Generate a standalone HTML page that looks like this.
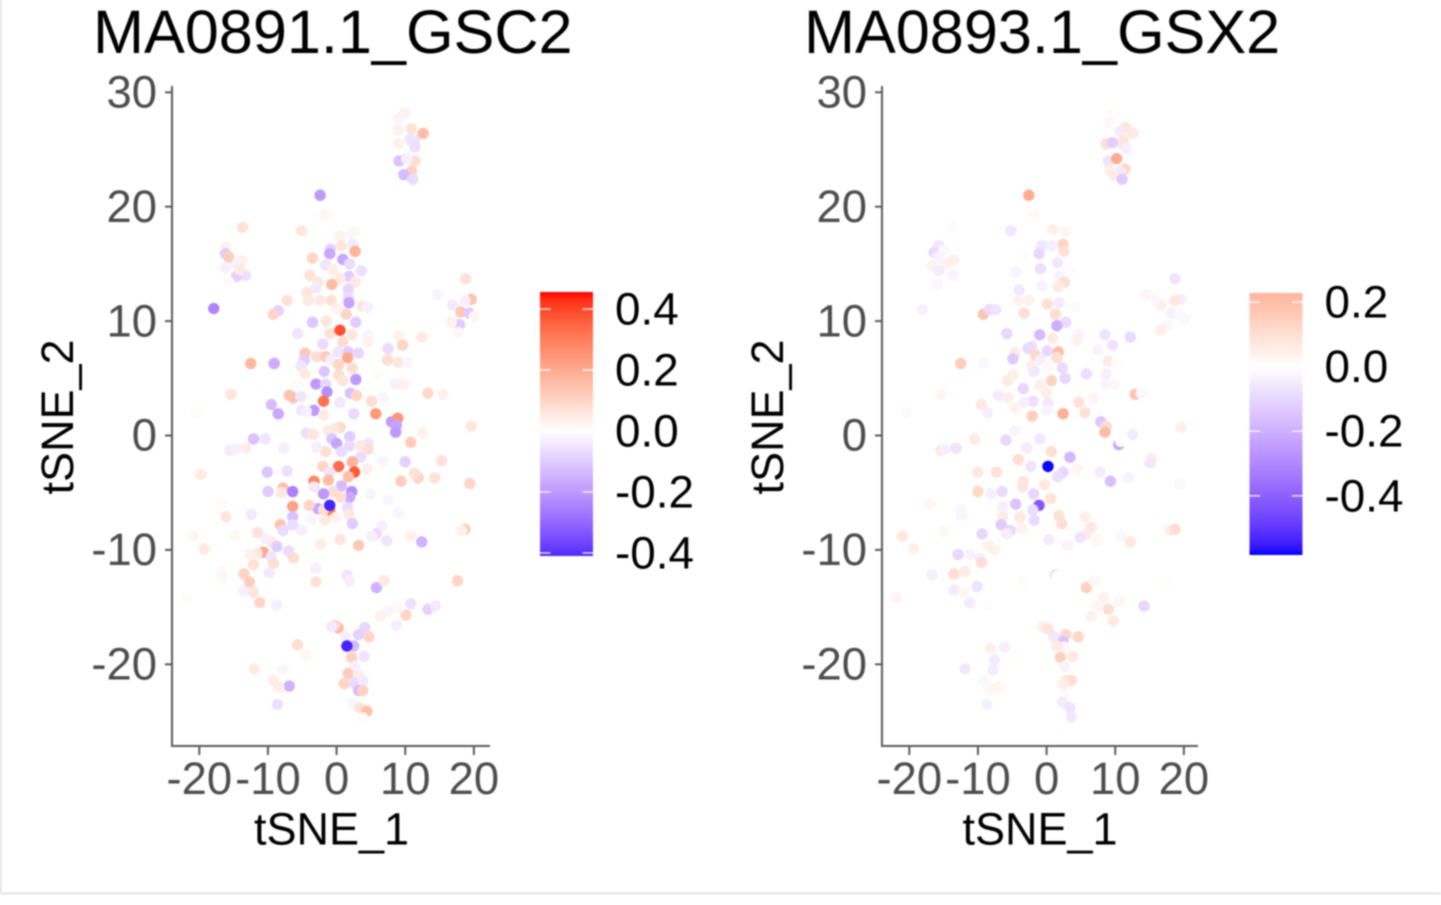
<!DOCTYPE html>
<html lang="en">
<head>
<meta charset="utf-8">
<title>MA0891.1_GSC2 and MA0893.1_GSX2 tSNE</title>
<style>
html,body{margin:0;padding:0;background:#fff;width:1441px;height:905px;overflow:hidden}
svg{display:block;position:absolute;left:0;top:0;filter:blur(0.9px)}
text{font-family:"Liberation Sans",sans-serif}
.tick{font-size:45.4px;fill:#4d4d4d}
.axt{font-size:45px;fill:#000}
.ttl{font-size:61.2px;fill:#000}
.leg{font-size:45.8px;fill:#000}
</style>
</head>
<body>
<svg id="fig" xmlns="http://www.w3.org/2000/svg" width="1441" height="905" viewBox="0 0 1441 905">
  <rect x="0" y="0" width="1441" height="905" fill="#fff"/>
  <rect x="0" y="0" width="1.5" height="893" fill="#dcdcdc"/>
  <rect x="0" y="892.5" width="1441" height="2" fill="#e2e2e2"/>
  <text class="ttl" x="93" y="53">MA0891.1_GSC2</text>
  <text class="ttl" x="804" y="53">MA0893.1_GSX2</text>
  <text class="axt" x="331.5" y="844.5" text-anchor="middle">tSNE_1</text>
  <text class="axt" x="1040" y="844.5" text-anchor="middle">tSNE_1</text>
  <text class="axt" transform="translate(73,417) rotate(-90)" text-anchor="middle">tSNE_2</text>
  <text class="axt" transform="translate(783,417) rotate(-90)" text-anchor="middle">tSNE_2</text>
  <defs id="defs"></defs>
  <g id="panel-left"></g>
  <g id="panel-right"></g>
</svg>
<script>
const xTickValues = [-20, -10, 0, 10, 20];
const xTickLabels = ["-20", "-10", "0", "10", "20"];
const yTickValues = [30, 20, 10, 0, -10, -20];
const yTickLabels = ["30", "20", "10", "0", "-10", "-20"];

const gsc2LegendValues = [0.4, 0.2, 0, -0.2, -0.4];
const gsc2LegendLabels = ["0.4", "0.2", "0.0", "-0.2", "-0.4"];
const gsc2Limits = [-0.41, 0.456];
const gsx2LegendValues = [0.2, 0, -0.2, -0.4];
const gsx2LegendLabels = ["0.2", "0.0", "-0.2", "-0.4"];
const gsx2Limits = [-0.583, 0.228];

const gsc2X = [
9.9,9.0,9.0,10.9,12.6,11.4,10.7,9.0,11.4,9.1,11.4,10.2,10.9,9.8,11.1,
-2.4,-1.8,-13.7,-5.1,-16.2,-16.2,-15.7,-16.2,-14.6,-13.3,-14.6,-13.8,-14.1,-15.7,-17.9,
0.5,2.2,2.7,0.7,-0.9,-1.0,2.4,2.7,-3.5,0.9,1.9,-1.6,-0.5,1.8,3.6,-3.9,0.5,2.7,-0.7,-2.7,-3.0,1.7,1.7,-4.3,1.8,-4.1,-2.4,-0.8,-7.2,-8.5,-9.2,3.8,4.5,1.4,0.1,-1.5,-3.5,2.8,
-1.0,2.3,-5.7,4.6,4.6,0.9,-2.0,0.5,9.0,12.4,7.5,9.6,
14.7,18.8,19.6,18.7,16.9,18.1,19.3,17.9,20.1,16.7,17.7,
-12.5,-9.1,-9.1,-4.6,-4.7,-5.2,-2.9,-1.6,0.2,1.7,3.2,1.6,-0.8,0.3,2.3,-1.8,2.8,0.3,-4.6,0.9,7.4,9.0,10.3,5.8,8.6,9.9,-5.6,-3.0,-1.6,-1.4,
-15.4,-6.9,-6.3,-5.2,-9.5,-8.5,2.0,2.9,-1.9,5.1,6.8,13.3,15.5,0.5,-5.1,-3.3,-4.4,-1.9,2.5,5.7,-20.5,
8.0,8.9,8.7,8.6,12.5,10.8,19.6,0.5,-0.2,-4.4,-3.4,-1.2,1.9,-0.7,0.0,1.9,4.6,-12.1,-10.4,-15.5,-14.7,-13.2,-7.7,4.6,3.4,0.7,-1.6,-2.9,3.5,2.3,6.8,10.0,15.3,
-19.8,0.3,-2.0,2.6,4.4,-10.1,-7.2,-1.0,1.7,11.9,11.3,14.3,9.4,19.4,-3.3,-1.2,-3.3,-7.8,-8.0,-6.4,-10.0,0.7,-0.5,-1.9,2.2,1.9,0.6,4.9,
-2.7,-1.0,-1.9,-1.0,-4.0,-6.4,-16.7,1.6,1.8,-6.4,-3.6,-0.2,-1.7,2.3,-12.4,-16.1,9.0,7.5,
-6.4,-8.2,-7.8,-5.1,-11.5,6.6,5.8,5.1,7.3,10.8,12.4,18.7,18.2,-21.0,-19.3,-14.8,0.5,3.2,-2.3,-9.5,-10.4,-8.7,-7.0,-10.7,-11.6,-12.7,-9.5,-6.3,-12.1,-9.2,
-16.7,-16.6,-9.8,-13.5,-3.0,1.5,1.9,-3.0,-12.7,-13.6,-12.1,5.8,6.9,17.6,-21.9,-11.2,-8.7,10.8,13.3,14.4,10.1,9.0,7.5,6.4,8.7,
0.2,-0.2,-0.7,4.1,3.2,4.7,1.3,2.5,1.5,-5.7,-4.5,2.2,4.0,-12.0,-7.8,2.6,1.7,3.2,-9.2,-6.9,-8.4,1.1,2.5,3.8,3.2,3.8,-8.6,2.4,3.4,4.4,3.8
];
const gsc2Y = [
28.2,27.7,26.7,26.8,26.4,25.8,25.9,25.5,25.2,24.0,24.0,24.2,23.1,22.8,22.4,
21.0,19.3,18.2,17.9,16.5,15.9,15.6,14.7,15.0,14.0,13.9,15.3,14.5,13.4,11.1,
17.4,17.7,17.8,16.6,16.3,15.9,16.7,16.1,15.5,15.4,15.0,14.9,14.5,13.9,14.4,14.0,13.7,13.4,13.2,13.4,12.9,12.8,12.1,12.5,11.6,11.8,11.8,11.8,11.8,10.9,10.6,11.3,11.2,10.6,11.1,10.0,9.9,9.9,
8.9,8.8,8.9,8.8,8.2,8.2,8.0,9.2,8.7,8.6,7.6,7.9,
12.3,13.7,11.9,11.8,11.4,10.8,10.7,9.7,10.4,9.9,9.0,
6.3,6.3,6.3,7.2,6.6,6.1,6.9,6.9,7.3,7.3,7.2,6.8,6.6,6.2,5.9,5.6,4.9,5.3,5.4,4.8,6.6,6.4,6.4,5.3,4.5,4.5,4.5,4.5,4.5,3.8,
3.6,3.5,3.3,3.4,2.7,1.9,3.7,3.5,3.0,3.0,3.3,3.7,3.6,2.9,2.2,2.2,2.1,1.8,1.9,1.9,2.0,
1.2,1.5,0.9,0.3,0.2,-0.6,0.8,0.7,0.6,0.2,0.1,0.4,-0.1,-0.3,-0.7,-0.9,-0.7,-0.3,-0.3,-1.3,-1.2,-1.1,-1.1,-1.2,-0.9,-1.4,-1.4,-1.0,-1.9,-2.3,-2.2,-2.3,-2.2,
-3.4,-2.7,-2.7,-3.2,-2.9,-3.2,-3.1,-3.2,-3.6,-3.7,-3.3,-3.7,-4.0,-4.2,-4.0,-3.9,-4.5,-4.6,-5.0,-4.9,-4.9,-4.4,-4.9,-5.1,-4.9,-5.4,-5.4,-5.1,
-6.4,-6.5,-6.5,-6.1,-6.1,-6.2,-5.9,-6.3,-6.9,-7.1,-7.3,-7.2,-7.4,-7.7,-6.9,-7.1,-6.8,-5.6,
-7.8,-7.8,-8.3,-8.3,-8.5,-7.9,-8.6,-8.8,-9.2,-8.8,-9.3,-8.2,-8.3,-8.8,-9.9,-8.7,-9.1,-9.6,-9.5,-9.3,-9.0,-9.7,-10.1,-10.2,-10.3,-10.4,-10.6,-10.7,-11.3,-11.2,
-11.8,-12.3,-12.0,-12.1,-11.6,-12.2,-12.7,-12.8,-12.8,-13.6,-13.7,-13.3,-12.7,-12.7,-14.2,-14.6,-14.8,-14.7,-15.2,-14.9,-15.7,-15.1,-15.3,-15.8,-16.6,
-16.8,-16.6,-16.7,-16.8,-17.4,-17.6,-17.6,-18.4,-18.4,-18.3,-19.2,-19.4,-19.3,-20.4,-20.4,-20.2,-20.8,-21.0,-21.4,-21.9,-22.0,-21.7,-21.6,-21.4,-22.3,-22.3,-23.5,-23.4,-23.8,-24.1,-24.7
];
const gsc2Values = [
.03,-.02,.03,.07,.16,-.06,-.05,.03,-.06,-.12,.08,-.03,.11,-.13,-.07,
-.2,.02,.07,.06,.03,-.1,.12,-.03,-.03,-.06,-.09,.03,.05,.01,-.24,
.03,-.02,.02,.06,-.08,-.17,-.04,.18,.1,-.17,-.07,-.05,.04,-.1,-.06,.07,.05,.05,.16,.06,-.04,-.08,-.07,.06,-.18,.05,.05,.07,.07,-.09,.1,.06,-.03,.1,.03,.06,-.11,-.1,
.07,.06,-.05,-.02,.03,.08,-.07,.38,.03,.05,-.07,.1,
-.02,.07,.14,-.03,-.04,.13,-.1,-.1,.02,.03,.02,
.17,.22,-.16,.13,-.1,-.05,.08,.12,-.05,-.1,-.08,.2,-.03,.1,.08,-.11,-.2,.08,.05,.06,.08,.06,-.02,.01,-.03,.03,.01,-.2,-.08,-.22,
.06,.14,.14,-.05,-.13,-.17,-.12,.1,.32,.08,-.02,.09,.03,-.04,-.05,-.2,-.03,.05,-.07,.24,.01,
-.2,.25,-.18,-.2,.03,.12,.06,.09,.06,-.06,.06,.05,-.1,-.11,-.18,-.07,-.05,-.12,-.05,-.04,-.03,.04,-.03,.08,.05,-.07,.08,-.03,-.07,.18,-.02,-.09,.07,
.05,.33,.1,.37,.04,-.11,-.06,-.05,.15,.1,.07,.07,.12,.1,.28,.16,-.04,.15,.05,-.25,-.1,-.13,.08,-.2,-.22,-.17,.08,-.02,
-.17,.3,.08,-.42,.1,.22,.01,-.07,.05,-.12,-.02,.03,.05,-.1,-.04,.06,-.02,-.02,
-.07,.14,-.07,-.03,.07,-.03,-.07,-.03,-.05,.03,-.15,.12,.03,.02,.05,.02,.06,.13,.04,.05,-.03,-.1,-.07,.2,.05,.03,-.05,.08,.07,.08,
-.01,.02,-.04,.1,-.03,-.05,-.03,.07,.12,-.03,.06,-.15,.05,.1,.01,.1,-.03,-.06,-.09,-.04,.1,.02,-.02,.03,-.03,
.18,.1,-.04,-.08,-.09,.1,-.03,-.13,-.42,.08,.02,.11,-.05,.05,-.02,-.03,.12,.04,.04,-.15,.04,.1,-.07,-.04,-.13,.11,-.06,-.02,.07,.15,.01
];

const gsx2X = [
9.7,9.1,11.5,12.6,10.7,8.7,9.6,11.2,11.2,11.6,9.0,10.2,11.4,10.7,9.2,9.8,11.0,
-2.6,-1.8,-13.7,-5.2,-15.7,-16.4,-15.0,-15.8,-13.6,-14.6,-16.7,-15.7,-13.6,-15.9,-18.1,-9.2,-8.3,-7.4,
0.9,2.7,-0.7,0.7,2.4,2.5,-1.1,-3.4,1.6,-0.9,-4.5,3.4,1.8,2.6,-0.7,1.7,-4.0,-4.1,-2.6,0.1,1.8,4.1,1.3,-3.3,2.8,1.5,-5.8,-1.0,4.6,0.9,8.5,12.2,-2.2,-2.7,0.1,1.7,4.4,9.6,7.5,-4.6,-4.9,-1.6,-0.9,1.5,9.0,10.2,
14.6,18.7,19.6,18.7,16.7,15.8,18.2,19.3,20.1,17.5,16.6,
-12.5,-12.5,-9.2,-2.2,0.2,2.3,-1.8,2.7,5.8,8.7,8.6,9.9,0.7,-5.7,-4.9,-3.4,-1.0,0.0,
-15.4,-7.0,-5.6,12.9,13.8,6.8,4.7,-9.5,-2.0,0.2,-3.3,-4.6,-8.6,-20.5,-2.1,2.4,5.6,0.0,
7.9,8.7,8.5,12.5,19.6,10.5,10.8,-5.9,-1.0,0.7,3.4,-4.1,-2.3,0.2,-10.5,-13.2,-15.4,-14.8,-2.9,-4.6,
-10.0,-7.3,2.4,1.6,4.4,7.8,9.3,11.9,15.3,15.1,19.4,-3.4,-3.5,-10.0,-8.1,-6.5,-1.9,-0.3,0.6,
-17.0,-4.5,-1.1,-2.0,-6.4,-12.6,-12.4,-6.4,-3.9,1.8,5.6,-1.8,2.2,-6.6,-5.3,-5.8,-3.6,-9.4,6.5,5.8,4.9,0.3,3.0,7.3,10.8,12.2,17.9,18.7,-21.0,-19.4,-15.0,
-12.9,-11.2,-9.7,-9.5,-7.6,-8.5,-13.5,-16.7,-11.9,-10.1,-13.5,-12.1,-11.2,-21.9,-8.7,5.8,6.9,-3.4,1.3,1.5,17.5,14.2,9.0,10.6,8.3,6.5,7.5,9.7,
-0.5,0.2,1.1,2.8,4.6,2.4,2.6,1.5,-6.1,-8.2,-4.5,-7.6,2.0,3.8,-11.9,-7.8,2.6,2.8,3.6,2.4,-9.2,-7.0,-8.2,3.5,3.8,-8.7,2.3,3.4,3.6
];
const gsx2Y = [
28.2,27.4,26.9,26.4,26.6,25.5,25.6,25.8,25.4,25.1,24.0,24.2,23.3,23.1,23.2,22.8,22.4,
21.0,19.3,18.2,17.9,16.6,16.0,16.2,15.6,15.3,15.0,14.8,14.4,14.0,13.2,11.0,10.6,11.0,11.0,
18.0,17.8,16.6,16.6,16.7,16.1,15.9,15.7,15.1,14.6,14.3,14.4,13.9,13.4,13.1,13.0,12.7,11.8,11.8,11.5,11.6,11.2,10.6,10.7,9.9,9.6,8.9,8.8,8.8,8.5,8.8,8.6,7.8,7.6,7.4,7.3,8.3,7.9,7.5,7.2,6.7,7.0,6.6,6.8,6.5,6.4,
12.3,13.7,11.9,11.8,11.4,11.9,10.7,10.6,10.2,9.6,9.2,
6.3,6.3,6.3,6.1,6.1,5.9,5.6,5.0,5.4,5.4,4.5,4.5,4.8,4.8,5.3,4.1,4.4,3.7,
3.6,3.5,3.3,3.6,3.7,3.3,2.9,2.7,3.0,2.8,2.9,2.4,2.0,2.0,1.7,1.9,2.0,2.2,
1.2,0.8,0.3,0.1,0.7,-0.8,-0.5,-0.4,-0.3,-1.4,-1.9,-2.1,-2.7,-2.7,-0.3,-1.1,-1.3,-1.2,-1.1,0.4,
-3.2,-3.2,-3.2,-3.6,-2.9,-3.2,-4.0,-3.7,-2.0,-2.4,-4.2,-4.0,-4.5,-4.9,-5.1,-4.9,-5.1,-4.3,-5.5,
-6.0,-6.0,-6.1,-6.5,-6.2,-6.4,-7.0,-7.1,-7.1,-7.0,-7.1,-7.4,-7.7,-7.8,-8.3,-8.6,-8.1,-8.6,-8.0,-8.6,-8.9,-9.1,-9.6,-9.2,-8.8,-9.3,-8.3,-8.2,-8.8,-9.9,-8.4,
-10.4,-10.4,-10.7,-11.1,-10.0,-9.6,-12.1,-12.2,-11.9,-13.2,-13.5,-13.7,-14.6,-14.2,-14.8,-13.3,-12.7,-12.8,-12.2,-12.3,-12.7,-14.9,-15.2,-14.5,-14.2,-15.8,-14.8,-16.2,
-16.7,-16.9,-17.6,-17.4,-17.6,-18.0,-18.5,-18.4,-18.5,-18.6,-19.2,-19.6,-19.4,-19.3,-20.4,-20.5,-20.2,-21.4,-21.4,-21.7,-21.4,-22.0,-22.2,-22.4,-22.4,-23.5,-23.3,-23.8,-24.6
];
const gsx2Values = [
.01,-.02,.08,.06,-.05,.1,-.12,.08,.08,-.04,-.07,.25,.12,-.05,.05,.06,-.13,
.25,.015,-.015,-.06,-.06,-.09,-.02,-.03,.05,.04,.04,-.05,-.03,-.02,-.04,.18,-.09,-.07,
.05,.03,-.06,-.04,.13,.09,-.1,-.01,-.06,-.08,-.03,-.01,-.03,.1,-.03,.06,-.06,.04,.04,.1,-.05,-.01,.1,.1,-.09,-.2,-.1,-.17,-.03,.06,-.07,-.09,-.08,-.09,-.1,.2,.04,-.07,-.03,.06,-.13,.12,-.04,.1,.06,.01,
.03,-.07,-.04,.07,.05,-.02,-.04,-.02,-.02,-.02,.05,
-.07,.15,-.02,.05,.02,-.09,-.06,-.1,-.08,-.04,-.03,.03,.13,.06,.05,-.1,.05,.05,
.03,-.05,.05,.18,-.02,.03,.09,.07,-.08,-.06,-.04,.04,-.04,-.015,.15,.24,.09,-.03,
-.14,.1,.2,-.05,.05,-.22,0,-.1,-.06,.1,-.18,.1,-.07,-.58,.06,-.07,.07,-.04,-.05,-.03,
.07,.09,-.1,-.08,.03,-.05,-.16,-.03,.05,-.06,-.02,.08,.08,.12,-.04,-.09,-.1,.07,.09,
.03,-.15,-.42,-.09,-.04,-.02,-.03,.06,.07,.09,.05,-.09,.1,-.13,-.1,-.04,.04,-.1,.07,.06,-.07,-.05,-.03,.02,-.02,.07,.05,.1,.07,.05,.02,
-.1,-.03,-.04,.1,.04,.04,.1,-.04,.06,-.07,-.05,.03,-.05,.03,-.01,.14,.03,.01,-.1,0,.01,-.1,.1,.03,.04,.04,.03,.06,
.05,.08,-.06,.12,.12,-.15,.02,.06,-.04,.05,.01,-.05,.14,.07,-.06,-.05,-.03,.07,.1,.05,-.02,.03,.03,.05,0,-.04,-.05,-.07,-.06
];

const SVG_NS = "http://www.w3.org/2000/svg";
const yScale = v => 435.5 - v * 11.44;
const xScaleLeft = v => 336.6 + v * 6.865;
const xScaleRight = v => 1046.6 + v * 6.865;

function make(tag, attrs, parent) {
  const el = document.createElementNS(SVG_NS, tag);
  for (const k in attrs) el.setAttribute(k, attrs[k]);
  parent.appendChild(el);
  return el;
}
const LAB_RED = [53.24, 80.09, 67.2];
const LAB_BLUE = [32.3, 79.2, -107.86];
function labToRgb(L, a, b) {
  const fy = (L + 16) / 116, fx = fy + a / 500, fz = fy - b / 200;
  const inv = t => t * t * t > 0.008856 ? t * t * t : (t - 16 / 116) / 7.787;
  const X = 0.95047 * inv(fx), Y = inv(fy), Z = 1.08883 * inv(fz);
  const lin = [
    3.2406 * X - 1.5372 * Y - 0.4986 * Z,
    -0.9689 * X + 1.8758 * Y + 0.0415 * Z,
    0.0557 * X - 0.204 * Y + 1.057 * Z
  ];
  const out = lin.map(c => {
    c = Math.min(1, Math.max(0, c));
    c = c <= 0.0031308 ? 12.92 * c : 1.055 * Math.pow(c, 1 / 2.4) - 0.055;
    return Math.round(c * 255);
  });
  return "rgb(" + out.join(",") + ")";
}
function colorFor(v, maxAbs) {
  const t = Math.min(1, Math.abs(v) / maxAbs);
  const end = v >= 0 ? LAB_RED : LAB_BLUE;
  return labToRgb(100 + (end[0] - 100) * t, end[1] * t, end[2] * t);
}

function drawPanel(group, xScale, axisX, axisEnd, xs, ys, vals, limits, legX, legTop, legBot, legVals, legLabels, gradId) {
  const maxAbs = Math.max(Math.abs(limits[0]), Math.abs(limits[1]));
  const points = make("g", {}, group);
  
  
  xs.forEach((x, i) => {
    const c = make("circle", { cx: xScale(x), cy: yScale(ys[i]), r: 5.7, fill: colorFor(vals[i], maxAbs) }, points);
    
    
  });
  const yAxis = make("line", { x1: axisX, x2: axisX, y1: 86, y2: 747, stroke: "#5a5a5a", "stroke-width": 2 }, group);
  
  
  const xAxis = make("line", { x1: axisX - 1, x2: axisEnd, y1: 746, y2: 746, stroke: "#5a5a5a", "stroke-width": 2 }, group);
  
  
  xTickValues.forEach((v, i) => {
    const t = make("line", { x1: xScale(v), x2: xScale(v), y1: 746, y2: 755, stroke: "#5a5a5a", "stroke-width": 2 }, group);
    
    
    const l = make("text", { x: xScale(v), y: 794, "text-anchor": "middle", class: "tick" }, group);
    l.textContent = xTickLabels[i];
    
    
  });
  yTickValues.forEach((v, i) => {
    const t = make("line", { x1: axisX - 7, x2: axisX, y1: yScale(v), y2: yScale(v), stroke: "#5a5a5a", "stroke-width": 2 }, group);
    
    
    const l = make("text", { x: axisX - 15, y: yScale(v) + 15.2, "text-anchor": "end", class: "tick" }, group);
    l.textContent = yTickLabels[i];
    
    
  });
  const legY = v => legTop + (limits[1] - v) / (limits[1] - limits[0]) * (legBot - legTop);
  const defs = document.getElementById("defs");
  const grad = make("linearGradient", { id: gradId, x1: 0, y1: 0, x2: 0, y2: 1 }, defs);
  for (let i = 0; i <= 40; i++) {
    const f = i / 40;
    const v = limits[1] + (limits[0] - limits[1]) * f;
    make("stop", { offset: f, "stop-color": colorFor(v, maxAbs) }, grad);
  }
  const bar = make("rect", { x: legX, y: legTop, width: 53, height: legBot - legTop, fill: "url(#" + gradId + ")" }, group);
  
  
  legVals.forEach((v, i) => {
    [[legX, legX + 10.5], [legX + 42.5, legX + 53]].forEach(seg => {
      const t = make("line", { x1: seg[0], x2: seg[1], y1: legY(v), y2: legY(v), stroke: "#fff", "stroke-width": 1.2 }, group);
      
      
    });
    const l = make("text", { x: legX + 75, y: legY(v) + 15.4, class: "leg" }, group);
    l.textContent = legLabels[i];
    
    
  });
}

drawPanel(document.getElementById("panel-left"), xScaleLeft, 172, 490, gsc2X, gsc2Y, gsc2Values, gsc2Limits, 540, 292, 556, gsc2LegendValues, gsc2LegendLabels, "grad-left");
drawPanel(document.getElementById("panel-right"), xScaleRight, 882, 1198, gsx2X, gsx2Y, gsx2Values, gsx2Limits, 1249.5, 293, 555, gsx2LegendValues, gsx2LegendLabels, "grad-right");
</script>
</body>
</html>
